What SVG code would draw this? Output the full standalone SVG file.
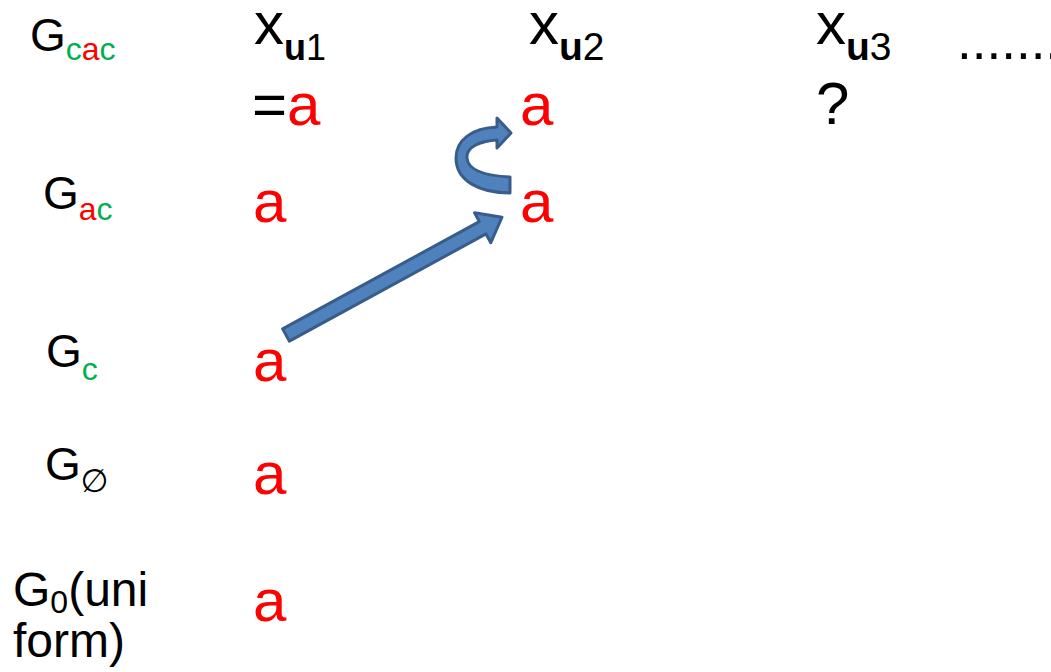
<svg xmlns="http://www.w3.org/2000/svg" width="1051" height="672" viewBox="0 0 1051 672">
<style>
text{font-family:"Liberation Sans",Arial,"DejaVu Sans",sans-serif;fill:#000}
.g{font-size:46px}
.s{font-size:32px}
.big{font-size:60px}
.sub{font-size:36px}
.sub2{font-size:39px}
.r{fill:#FF0000}
.gr{fill:#00B050}
.b{font-weight:bold}
.arrow{fill:#4F81BD;stroke:#385D8A;stroke-width:3;stroke-linejoin:round}
</style>
<rect width="1051" height="672" fill="#fff"/>
<g id="labels">
<g id="G_cac"><text x="30" y="51" class="g">G<tspan class="s gr" dy="9">c</tspan><tspan class="s r">a</tspan><tspan class="s gr">c</tspan></text></g>
<g id="G_ac"><text x="43" y="209" class="g">G<tspan class="s r" dy="11">a</tspan><tspan class="s gr">c</tspan></text></g>
<g id="G_c"><text x="46" y="367" class="g">G<tspan class="s gr" dy="13">c</tspan></text></g>
<g id="G_empty"><text x="45" y="480" class="g">G<tspan class="s" dy="12">∅</tspan></text></g>
<g id="G_0"><text x="13" y="606" class="g" style="font-size:48px">G<tspan class="s" dy="7">0</tspan><tspan dy="-7">(uni</tspan></text><text x="13" y="657" class="g" style="font-size:48px">form)</text></g>
</g>
<g id="headers">
<g id="x_u1"><text x="254" y="44" class="big">x<tspan class="sub b" dy="16">u</tspan><tspan class="sub">1</tspan></text></g>
<g id="x_u2"><text x="529" y="44" class="big">x<tspan class="sub2 b" dy="16">u</tspan><tspan class="sub2">2</tspan></text></g>
<g id="x_u3"><text x="816" y="44" class="big">x<tspan class="sub2 b" dy="16">u</tspan><tspan class="sub2">3</tspan></text></g>
<g id="dots"><text x="957" y="59" style="font-size:53px">.......</text></g>
</g>
<g id="cells">
<text x="252" y="125" class="big">=<tspan class="r">a</tspan></text>
<text x="520" y="125" class="big r">a</text>
<text x="816" y="124" class="big">?</text>
<text x="253" y="222" class="big r">a</text>
<text x="520" y="222" class="big r">a</text>
<text x="253" y="381" class="big r">a</text>
<text x="253" y="494" class="big r">a</text>
<text x="253" y="621" class="big r">a</text>
</g>
<g id="connectors">
<polygon class="arrow" transform="translate(286,335) rotate(-28.6)" points="0,-7 224,-7 224,-17 246,0 224,17 224,7 0,7"/>
<path class="arrow" d="M510,177 C490,176 468,172 467,158 C466,147 480,141 497,140 L497,148 L511,133 L497,118 L497,127 C472,128 456,140 456,158 C456,181 480,193 510,193 Z"/>
</g>
</svg>
